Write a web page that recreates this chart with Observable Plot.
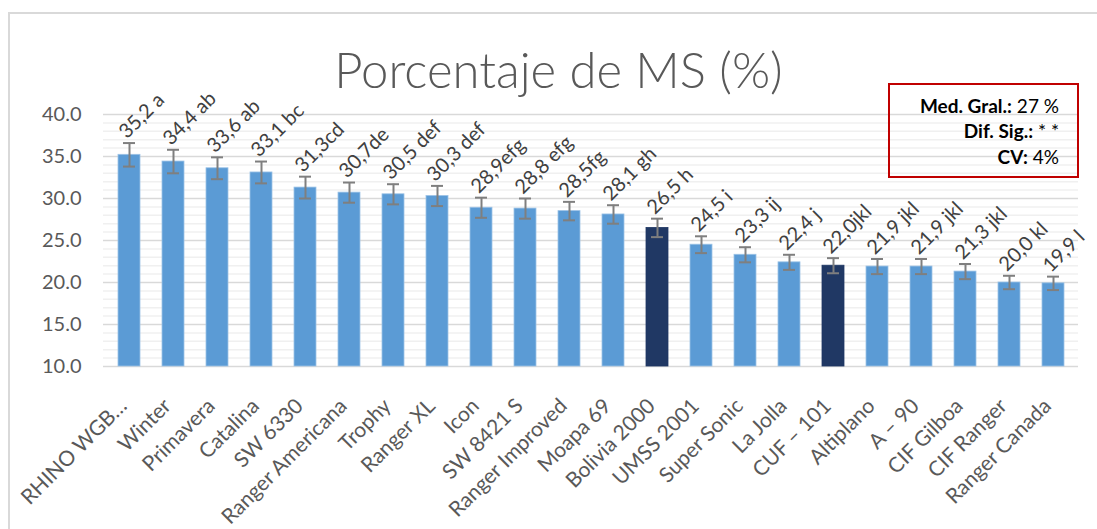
<!DOCTYPE html>
<html>
<head>
<meta charset="utf-8">
<script src="https://cdn.jsdelivr.net/npm/d3@7"></script>
<script src="https://cdn.jsdelivr.net/npm/@observablehq/plot@0.6"></script>
<style>
  html, body { margin: 0; padding: 0; background: #fff; }
  #wrap { position: relative; width: 1097px; height: 529px; overflow: hidden; font-family: Lato, "Open Sans", sans-serif; }
  #frame { position: absolute; left: 8px; top: 12px; width: 1200px; height: 600px; border-left: 2px solid #d9d9d9; border-top: 2px solid #d9d9d9; }
  #title { position: absolute; left: 0; top: 45px; width: 1117px; text-align: center; font-family: Lato, sans-serif; font-weight: 300; font-size: 49px; color: #595959; line-height: 1; }
  #box { position: absolute; left: 888px; top: 83px; width: 187px; height: 91px; border: 2px solid #c00000; box-sizing: content-box; }
  #box div { position: absolute; right: 18px; font-size: 19px; line-height: 1; color: #000; white-space: nowrap; font-family: Lato, sans-serif; }
  #box b { font-weight: 700; }
  #chart { position: absolute; left: 0; top: 0; }
</style>
</head>
<body>
<div id="wrap">
  <div id="frame"></div>
  <div id="chart"></div>
  <div id="title">Porcentaje de MS (%)</div>
  <div id="box">
    <div style="top:11px"><b>Med. Gral.:</b> 27 %</div>
    <div style="top:36px"><b>Dif. Sig.:</b> * *</div>
    <div style="top:62px"><b>CV:</b> 4%</div>
  </div>
</div>
<script>
const categories = ["RHINO WGB…", "Winter", "Primavera", "Catalina", "SW 6330", "Ranger Americana", "Trophy", "Ranger XL", "Icon", "SW 8421 S", "Ranger Improved", "Moapa 69", "Bolivia 2000", "UMSS 2001", "Super Sonic", "La Jolla", "CUF – 101", "Altiplano", "A – 90", "CIF Gilboa", "CIF Ranger", "Ranger Canada"];
const values = [35.2, 34.4, 33.6, 33.1, 31.3, 30.7, 30.5, 30.3, 28.9, 28.8, 28.5, 28.1, 26.5, 24.5, 23.3, 22.4, 22.0, 21.9, 21.9, 21.3, 20.0, 19.9];
const errors = [1.4, 1.4, 1.3, 1.3, 1.3, 1.2, 1.2, 1.2, 1.2, 1.2, 1.1, 1.1, 1.1, 1.0, 0.9, 0.9, 0.9, 0.9, 0.9, 0.9, 0.8, 0.8];
const valueLabels = ["35,2 a", "34,4 ab", "33,6 ab", "33,1 bc", "31,3cd", "30,7de", "30,5 def", "30,3 def", "28,9efg", "28,8 efg", "28,5fg", "28,1 gh", "26,5 h", "24,5 i", "23,3 ij", "22,4 j", "22,0jkl", "21,9 jkl", "21,9 jkl", "21,3 jkl", "20,0 kl", "19,9 l"];
const highlighted = ["Bolivia 2000", "CUF – 101"];
const majorTicks = [10, 15, 20, 25, 30, 35, 40];
const minorTicks = d3.range(10, 41, 1).filter(v => v % 5 !== 0);

const data = categories.map((c, i) => ({
  cat: c, v: values[i], e: errors[i], label: valueLabels[i],
  lo: values[i] - errors[i], hi: values[i] + errors[i],
  dark: highlighted.includes(c)
}));

const chart = Plot.plot({
  width: 1097,
  height: 529,
  marginLeft: 103,
  marginRight: 19,
  marginTop: 114,
  marginBottom: 163,
  style: { fontFamily: "Lato, 'Open Sans', sans-serif", color: "#595959", background: "transparent" },
  x: { type: "band", domain: categories, paddingInner: 0.5, paddingOuter: 0.25, label: null },
  y: { domain: [10, 40], label: null },
  marks: [
    Plot.ruleY(minorTicks, { stroke: "#f0f0f0", strokeWidth: 1.5 }),
    Plot.ruleY(majorTicks, { stroke: "#d9d9d9", strokeWidth: 1.5 }),
    Plot.barY(data, { x: "cat", y1: 10, y2: "v", fill: d => d.dark ? "#203864" : "#5b9bd5", stroke: d => d.dark ? "#203864" : "#9dc3e6", strokeWidth: 0.8 }),
    Plot.ruleX(data, { x: "cat", y1: "lo", y2: "hi", stroke: "#7f7f7f", strokeWidth: 2 }),
    Plot.tickY(data, { x: "cat", y: "hi", stroke: "#7f7f7f", strokeWidth: 2, insetLeft: 5, insetRight: 5 }),
    Plot.tickY(data, { x: "cat", y: "lo", stroke: "#7f7f7f", strokeWidth: 2, insetLeft: 5, insetRight: 5 }),
    Plot.text(data, { x: "cat", y: "hi", text: "label", rotate: -45, textAnchor: "start", dx: -7, dy: -8, fontSize: 20, fill: "#404040" }),
    Plot.axisY({ ticks: majorTicks, tickFormat: d => d.toFixed(1), tickSize: 0, tickPadding: 22, fontSize: 20, label: null }),
    Plot.axisX({ tickSize: 0, tickRotate: -45, tickPadding: 25, dx: -6, dy: 11, fontSize: 21, label: null })
  ]
});
document.getElementById("chart").appendChild(chart);
</script>
</body>
</html>
